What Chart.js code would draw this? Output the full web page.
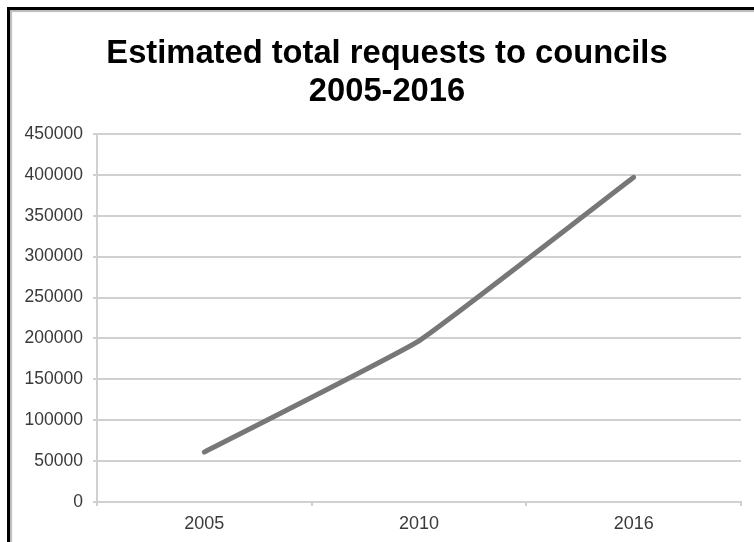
<!DOCTYPE html>
<html>
<head>
<meta charset="utf-8">
<script src="https://cdn.jsdelivr.net/npm/chart.js@4/dist/chart.umd.min.js"></script>
<style>
  html, body { margin: 0; padding: 0; background: #fff; overflow: hidden; }
  #frame { position: absolute; left: 7px; top: 7px; width: 820px; height: 620px;
           border: 3px solid #000; box-shadow: inset 2px 2px 1px #bbb; box-sizing: border-box; }
  #wrap { position: absolute; left: 0; top: 0; width: 754px; height: 542px; }
</style>
</head>
<body>
<div id="frame"></div>
<div id="wrap"><canvas id="c" width="754" height="542"></canvas></div>
<script>
const categories = ['2005', '2010', '2016'];
const requests = [61000, 197000, 397000];
const titleLines = ['Estimated total requests to councils', '2005-2016'];

const GRID = '#d0d0d0';
const TXT = '#3a3a3a';
const FAMILY = '"Liberation Sans", Arial, sans-serif';

const shiftTitle = {
  id: 'shiftTitle',
  afterLayout(chart) {
    const t = chart.titleBlock;
    if (t) { t.left += 16.5; t.right += 16.5; }
  }
};

new Chart(document.getElementById('c'), {
  type: 'line',
  data: {
    labels: categories,
    datasets: [{
      label: 'Requests',
      data: requests,
      borderColor: '#777777',
      borderWidth: 5,
      borderCapStyle: 'round',
      borderJoinStyle: 'round',
      pointRadius: 0,
      pointHoverRadius: 0,
      tension: 0.1,
      fill: false
    }]
  },
  plugins: [shiftTitle],
  options: {
    responsive: false,
    animation: false,
    devicePixelRatio: 1,
    layout: { padding: { top: 0, left: 0, right: 13, bottom: 0 } },
    plugins: {
      legend: { display: false },
      tooltip: { enabled: false },
      title: {
        display: true,
        text: titleLines,
        color: '#000',
        font: { family: FAMILY, size: 32.7, weight: 'bold', lineHeight: 1.162 },
        padding: { top: 35, bottom: 23 }
      }
    },
    scales: {
      x: {
        type: 'category',
        offset: true,
        grid: { display: true, offset: true, drawOnChartArea: false, color: GRID, lineWidth: 2, tickLength: 4 },
        border: { display: true, color: GRID, width: 2 },
        ticks: { color: TXT, padding: 7, maxRotation: 0, font: { family: FAMILY, size: 18 } },
        afterFit: (s) => { s.height = 40; }
      },
      y: {
        min: 0,
        max: 450000,
        ticks: { stepSize: 50000, color: TXT, padding: 10, font: { family: FAMILY, size: 17.5 },
                 callback: (v) => String(v) },
        grid: { color: GRID, lineWidth: 2, tickLength: 4 },
        border: { display: true, color: GRID, width: 2 },
        afterFit: (s) => { s.width = 97; }
      }
    }
  }
});
</script>
</body>
</html>
